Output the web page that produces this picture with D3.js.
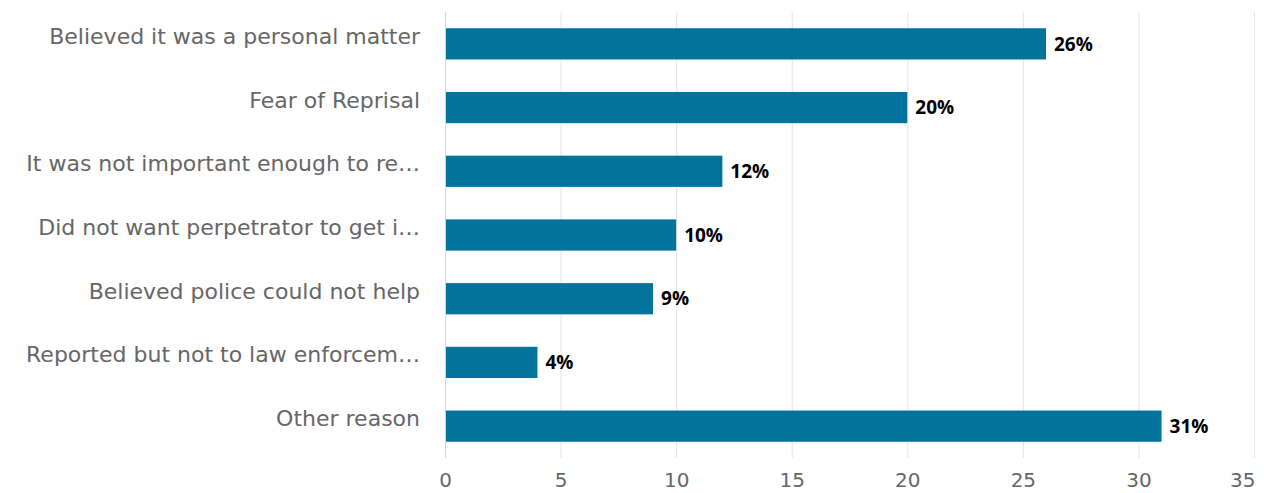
<!DOCTYPE html>
<meta charset="utf-8">
<style>
  body { margin: 0; background: #fff; }
</style>
<body>
<svg></svg>
<script src="https://cdn.jsdelivr.net/npm/d3@7"></script>
<script>
  // data
  var categories = [
    "Believed it was a personal matter",
    "Fear of Reprisal",
    "It was not important enough to re\u2026",
    "Did not want perpetrator to get i\u2026",
    "Believed police could not help",
    "Reported but not to law enforcem\u2026",
    "Other reason"
  ];
  var values = [26, 20, 12, 10, 9, 4, 31];
  var xTicks = [0, 5, 10, 15, 20, 25, 30, 35];

  var width = 1264, height = 493;
  var margin = {top: 12, right: 10, bottom: 35, left: 445};

  var svg = d3.select("svg")
      .attr("width", width)
      .attr("height", height);

  var x = d3.scaleLinear()
      .domain([0, 35])
      .range([margin.left, 1254]);

  var y = d3.scaleBand()
      .domain(categories)
      .range([margin.top, height - margin.bottom])
      .paddingInner(0.51)
      .paddingOuter(0.255);

  // gridlines
  svg.append("g")
    .selectAll("line")
    .data(xTicks.slice(1))
    .enter()
    .append("line")
    .attr("x1", function(d){ return x(d) + 0.5; })
    .attr("x2", function(d){ return x(d) + 0.5; })
    .attr("y1", margin.top)
    .attr("y2", height - margin.bottom)
    .attr("stroke", "#e3e3e3")
    .attr("stroke-width", 1);

  // bars
  svg.append("g")
    .selectAll("rect")
    .data(values)
    .enter()
    .append("rect")
    .attr("x", x(0))
    .attr("y", function(d, i){ return y(categories[i]); })
    .attr("width", function(d){ return x(d) - x(0); })
    .attr("height", y.bandwidth())
    .attr("fill", "#02739a");

  // y axis line
  svg.append("line")
    .attr("x1", x(0) + 0.5)
    .attr("x2", x(0) + 0.5)
    .attr("y1", margin.top)
    .attr("y2", height - margin.bottom)
    .attr("stroke", "#ccd6eb");

  // category labels
  svg.append("g")
    .selectAll("text")
    .data(categories)
    .enter()
    .append("text")
    .attr("x", 420)
    .attr("y", function(d){ return y(d) + y.bandwidth() / 2; })
    .attr("dy", "0.0em")
    .attr("text-anchor", "end")
    .attr("font-family", "DejaVu Sans")
    .attr("font-size", "22px")
    .attr("fill", "#666666")
    .text(function(d){ return d; });

  // value labels
  svg.append("g")
    .selectAll("text")
    .data(values)
    .enter()
    .append("text")
    .attr("x", function(d){ return x(d) + 8; })
    .attr("y", function(d, i){ return y(categories[i]) + y.bandwidth() / 2; })
    .attr("dy", "0.35em")
    .attr("font-family", "Open Sans")
    .attr("font-weight", "bold")
    .attr("font-size", "19px")
    .attr("fill", "#000")
    .text(function(d){ return d + "%"; });

  // x axis tick labels
  var xAxis = d3.axisBottom(x)
      .tickValues(xTicks)
      .tickSize(0)
      .tickPadding(15);

  var gx = svg.append("g")
    .attr("transform", "translate(0," + (height - margin.bottom) + ")")
    .call(xAxis);

  gx.select(".domain").remove();
  gx.selectAll("text")
    .attr("font-family", "DejaVu Sans")
    .attr("font-size", "20px")
    .attr("fill", "#666666");

  // keep the last tick label inside the chart, like the reference
  gx.selectAll(".tick")
    .filter(function(d){ return d === 35; })
    .select("text")
    .attr("text-anchor", "end")
    .attr("x", 1);
</script>
</body>
</html>
